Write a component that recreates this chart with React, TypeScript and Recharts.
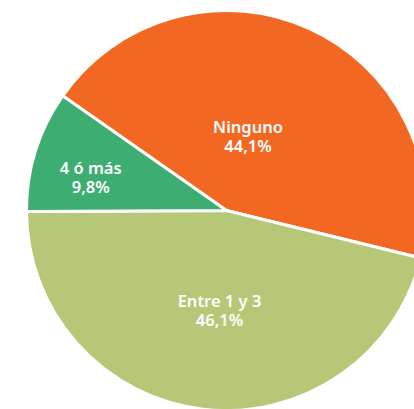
import React from 'react';
import { PieChart, Pie, Cell } from 'recharts';

const categories = ['Ninguno', 'Entre 1 y 3', '4 ó más'];
const shares = [44.1, 46.1, 9.8];
const colors = ['#F26822', '#B7C778', '#3DAD72'];

// label placement per slice (radius in px, angle in degrees)
const labelPos: Record<string, { r: number; a: number }> = {
  Ninguno: { r: 78, a: 74 },
  'Entre 1 y 3': { r: 100, a: -94 },
  '4 ó más': { r: 140, a: 166 },
};

const data = categories.map((name, i) => ({ name, value: shares[i] }));

const RADIAN = Math.PI / 180;

const renderLabel = (props: any) => {
  const { cx, cy, name, value } = props;
  const pos = labelPos[name];
  const x = cx + pos.r * Math.cos(pos.a * RADIAN);
  const y = cy - pos.r * Math.sin(pos.a * RADIAN);
  return (
    <g>
      <text
        x={x}
        y={y - 3}
        textAnchor="middle"
        fill="#fff"
        fontFamily="'Noto Sans', sans-serif"
        fontWeight={600}
        fontSize={16.5}
      >
        {name}
      </text>
      <text
        x={x}
        y={y + 16}
        textAnchor="middle"
        fill="#fff"
        fontFamily="'Noto Sans', sans-serif"
        fontWeight={600}
        fontSize={16.5}
      >
        {value.toFixed(1).replace('.', ',')}%
      </text>
    </g>
  );
};

export default function App() {
  return (
    <div style={{ position: 'fixed', left: 0, top: 0, width: 414, height: 409, overflow: 'hidden', background: '#fff' }}>
      <PieChart width={414} height={409} margin={{ top: 0, right: 0, bottom: 0, left: 0 }}>
        <Pie
          data={data}
          dataKey="value"
          nameKey="name"
          cx={226.5}
          cy={210.5}
          outerRadius={200}
          startAngle={145}
          endAngle={-215}
          stroke="#fff"
          strokeWidth={3}
          label={renderLabel}
          labelLine={false}
          isAnimationActive={false}
        >
          {data.map((d, i) => (
            <Cell key={d.name} fill={colors[i]} />
          ))}
        </Pie>
      </PieChart>
    </div>
  );
}
